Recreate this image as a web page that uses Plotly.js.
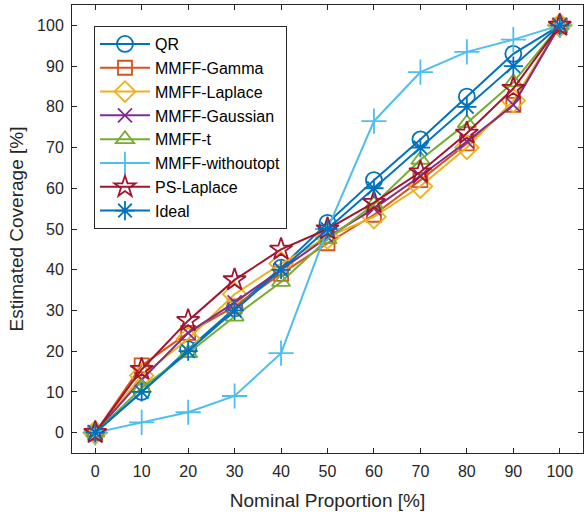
<!DOCTYPE html>
<html>
<head>
<meta charset="utf-8">
<script src="https://cdn.plot.ly/plotly-3.0.1.min.js"></script>
<style>html,body{margin:0;padding:0;background:#fff;}#chart{width:584px;height:523px;}</style>
</head>
<body>
<div id="chart"></div>
<script>
const nominal = [0, 10, 20, 30, 40, 50, 60, 70, 80, 90, 100];
const seriesNames = ["QR", "MMFF-Gamma", "MMFF-Laplace", "MMFF-Gaussian", "MMFF-t", "MMFF-withoutopt", "PS-Laplace", "Ideal"];
const qr          = [0, 10, 20.5, 30.5, 40.5, 51.5, 62, 72, 82.5, 93, 100];
const mmffGamma   = [0, 16.5, 24.5, 31, 39, 46.5, 53.5, 62, 71, 80.5, 100];
const mmffLaplace = [0, 14, 23, 34, 41.5, 48, 53, 60.5, 70, 81.5, 100];
const mmffGauss   = [0, 13, 24.5, 32, 40, 48, 55, 63, 71.5, 80.5, 100];
const mmffT       = [0, 11, 19.5, 28.5, 37, 47.5, 56, 67, 76, 86, 100];
const mmffNoOpt   = [0, 2.5, 5, 9, 19.5, 50, 76.5, 88.5, 93.5, 96.5, 100];
const psLaplace   = [0, 15.5, 27.5, 37.5, 45, 50, 56.5, 64, 73.5, 84.5, 100];
const ideal       = [0, 10, 20, 30, 40, 50, 60, 70, 80, 90, 100];
const tickVals    = [0, 10, 20, 30, 40, 50, 60, 70, 80, 90, 100];

const values = [qr, mmffGamma, mmffLaplace, mmffGauss, mmffT, mmffNoOpt, psLaplace, ideal];
const colors = ["#0072BD", "#D95319", "#EDB120", "#7E2F8E", "#77AC30", "#4DBEEE", "#A2142F", "#0072BD"];
const symbols = ["circle-open", "square-open", "diamond-open", "x-thin-open", "triangle-up-open", "cross-thin-open", "star-open", "asterisk-open"];
const sizes = [16, 14, 18, 14, 16, 18, 17, 16];

const traces = values.map((v, i) => ({
  x: nominal, y: v, name: seriesNames[i], type: "scatter", mode: "lines+markers",
  line: {color: colors[i], width: 2},
  marker: {symbol: symbols[i], size: sizes[i], color: colors[i], line: {color: colors[i], width: 1.8}}
}));

const axCol = "#262626";
const font = {family: "Liberation Sans, Arial, sans-serif", color: axCol};
const layout = {
  width: 584, height: 523,
  margin: {l: 72, r: 1, t: 5, b: 70},
  paper_bgcolor: "#fff", plot_bgcolor: "#fff",
  font: font,
  showlegend: true,
  xaxis: {
    range: [-5, 105], tickvals: tickVals, ticktext: tickVals.map(String),
    ticks: "inside", ticklen: 5, tickcolor: axCol, showline: true, linecolor: axCol, linewidth: 1,
    mirror: "ticks", showgrid: false, zeroline: false, ticklabelstandoff: 4,
    tickfont: {size: 16, color: axCol, family: font.family},
    title: {text: "Nominal Proportion [%]", font: {size: 19, color: axCol, family: font.family}, standoff: 14}
  },
  yaxis: {
    range: [-5, 105], tickvals: tickVals, ticktext: tickVals.map(String),
    ticks: "inside", ticklen: 5, tickcolor: axCol, showline: true, linecolor: axCol, linewidth: 1,
    mirror: "ticks", showgrid: false, zeroline: false, ticklabelstandoff: 4,
    tickfont: {size: 16, color: axCol, family: font.family},
    title: {text: "Estimated Coverage [%]", font: {size: 19, color: axCol, family: font.family}, standoff: 8}
  },
  legend: {
    x: 0.043, y: 0.953, xanchor: "left", yanchor: "top",
    bgcolor: "#fff", bordercolor: axCol, borderwidth: 1, itemwidth: 50,
    entrywidth: 148, entrywidthmode: "pixels",
    font: {size: 16, color: "#000", family: font.family}
  }
};
Plotly.newPlot("chart", traces, layout, {displayModeBar: false, staticPlot: true});
</script>
</body>
</html>
